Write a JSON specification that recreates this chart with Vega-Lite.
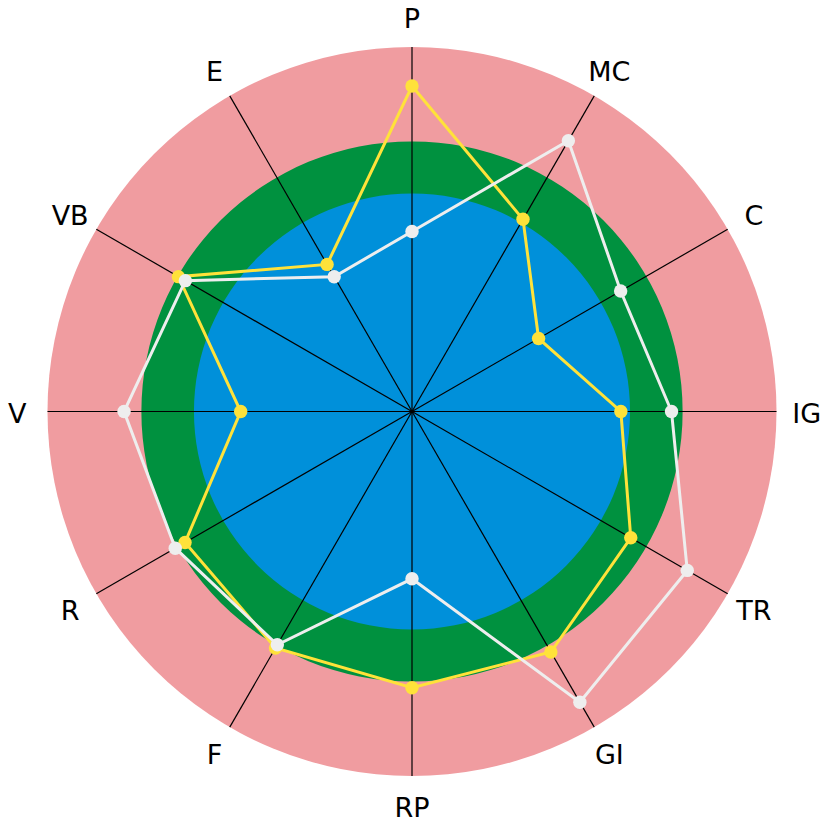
{
  "$schema": "https://vega.github.io/schema/vega-lite/v6.json",
  "width": 824,
  "height": 823,
  "padding": 0,
  "autosize": {"type": "none"},
  "background": "white",
  "config": {"view": {"stroke": null}},
  "datasets": {
    "rings": [
      {"ring": "outer", "r": 100},
      {"ring": "middle", "r": 74.1},
      {"ring": "inner", "r": 59.8}
    ],
    "axes": [
      {"axis": "P", "i": 0},
      {"axis": "MC", "i": 1},
      {"axis": "C", "i": 2},
      {"axis": "IG", "i": 3},
      {"axis": "TR", "i": 4},
      {"axis": "GI", "i": 5},
      {"axis": "RP", "i": 6},
      {"axis": "F", "i": 7},
      {"axis": "R", "i": 8},
      {"axis": "V", "i": 9},
      {"axis": "VB", "i": 10},
      {"axis": "E", "i": 11}
    ],
    "scores": [
      {"series": "A", "axis": "P", "value": 89.3},
      {"series": "A", "axis": "MC", "value": 60.9},
      {"series": "A", "axis": "C", "value": 40.1},
      {"series": "A", "axis": "IG", "value": 57.3},
      {"series": "A", "axis": "TR", "value": 69.3},
      {"series": "A", "axis": "GI", "value": 76.2},
      {"series": "A", "axis": "RP", "value": 75.8},
      {"series": "A", "axis": "F", "value": 74.9},
      {"series": "A", "axis": "R", "value": 71.9},
      {"series": "A", "axis": "V", "value": 47.0},
      {"series": "A", "axis": "VB", "value": 74.0},
      {"series": "A", "axis": "E", "value": 46.6},
      {"series": "B", "axis": "P", "value": 49.4},
      {"series": "B", "axis": "MC", "value": 85.8},
      {"series": "B", "axis": "C", "value": 66.1},
      {"series": "B", "axis": "IG", "value": 71.2},
      {"series": "B", "axis": "TR", "value": 87.2},
      {"series": "B", "axis": "GI", "value": 92.1},
      {"series": "B", "axis": "RP", "value": 45.9},
      {"series": "B", "axis": "F", "value": 73.9},
      {"series": "B", "axis": "R", "value": 75.0},
      {"series": "B", "axis": "V", "value": 79.0},
      {"series": "B", "axis": "VB", "value": 71.8},
      {"series": "B", "axis": "E", "value": 42.7}
    ]
  },
  "resolve": {"scale": {"color": "independent"}},
  "layer": [
    {
      "data": {"name": "rings"},
      "transform": [{"calculate": "0", "as": "cx"}, {"calculate": "0", "as": "cy"}],
      "mark": {"type": "arc", "theta": 0, "theta2": 6.2832},
      "encoding": {
        "x": {"field": "cx", "type": "quantitative", "scale": {"domain": [-113.03, 113.03], "nice": false, "zero": false}, "axis": null},
        "y": {"field": "cy", "type": "quantitative", "scale": {"domain": [-112.9, 112.9], "nice": false, "zero": false}, "axis": null},
        "radius": {"field": "r", "type": "quantitative", "stack": null, "scale": {"type": "linear", "domain": [0, 100], "range": [0, 364.5], "zero": true, "nice": false}},
        "color": {"field": "ring", "type": "nominal", "scale": {"domain": ["outer", "middle", "inner"], "range": ["#F09CA0", "#00913F", "#0090DA"]}, "legend": null}
      }
    },
    {
      "data": {"name": "axes"},
      "transform": [
        {"calculate": "datum.i * PI / 6", "as": "a"},
        {"calculate": "0", "as": "ox"},
        {"calculate": "0", "as": "oy"},
        {"calculate": "100 * sin(datum.a)", "as": "ex"},
        {"calculate": "100 * cos(datum.a)", "as": "ey"}
      ],
      "mark": {"type": "rule", "color": "black", "strokeWidth": 1.2},
      "encoding": {
        "x": {"field": "ox", "type": "quantitative"},
        "y": {"field": "oy", "type": "quantitative"},
        "x2": {"field": "ex"},
        "y2": {"field": "ey"}
      }
    },
    {
      "data": {"name": "axes"},
      "transform": [
        {"calculate": "datum.i * PI / 6", "as": "a"},
        {"calculate": "108.3 * sin(datum.a)", "as": "lx"},
        {"calculate": "108.3 * cos(datum.a)", "as": "ly"}
      ],
      "mark": {"type": "text", "font": "DejaVu Sans", "fontSize": 27, "align": "center", "baseline": "middle", "dy": 3, "color": "black"},
      "encoding": {
        "x": {"field": "lx", "type": "quantitative"},
        "y": {"field": "ly", "type": "quantitative"},
        "text": {"field": "axis", "type": "nominal"}
      }
    },
    {
      "data": {"name": "scores"},
      "transform": [
        {"lookup": "axis", "from": {"data": {"name": "axes"}, "key": "axis", "fields": ["i"]}},
        {"calculate": "datum.i * PI / 6", "as": "a"},
        {"calculate": "datum.value * sin(datum.a)", "as": "px"},
        {"calculate": "datum.value * cos(datum.a)", "as": "py"}
      ],
      "mark": {"type": "line", "interpolate": "linear-closed", "strokeWidth": 3},
      "encoding": {
        "x": {"field": "px", "type": "quantitative"},
        "y": {"field": "py", "type": "quantitative"},
        "order": {"field": "i", "type": "quantitative"},
        "color": {"field": "series", "type": "nominal", "scale": {"domain": ["A", "B"], "range": ["#FFE23A", "#EEEEEE"]}, "legend": null}
      }
    },
    {
      "data": {"name": "scores"},
      "transform": [
        {"lookup": "axis", "from": {"data": {"name": "axes"}, "key": "axis", "fields": ["i"]}},
        {"calculate": "datum.i * PI / 6", "as": "a"},
        {"calculate": "datum.value * sin(datum.a)", "as": "px"},
        {"calculate": "datum.value * cos(datum.a)", "as": "py"}
      ],
      "mark": {"type": "point", "filled": true, "opacity": 1, "size": 180, "shape": "circle"},
      "encoding": {
        "x": {"field": "px", "type": "quantitative"},
        "y": {"field": "py", "type": "quantitative"},
        "color": {"field": "series", "type": "nominal", "scale": {"domain": ["A", "B"], "range": ["#FFE23A", "#EEEEEE"]}, "legend": null}
      }
    }
  ]
}
